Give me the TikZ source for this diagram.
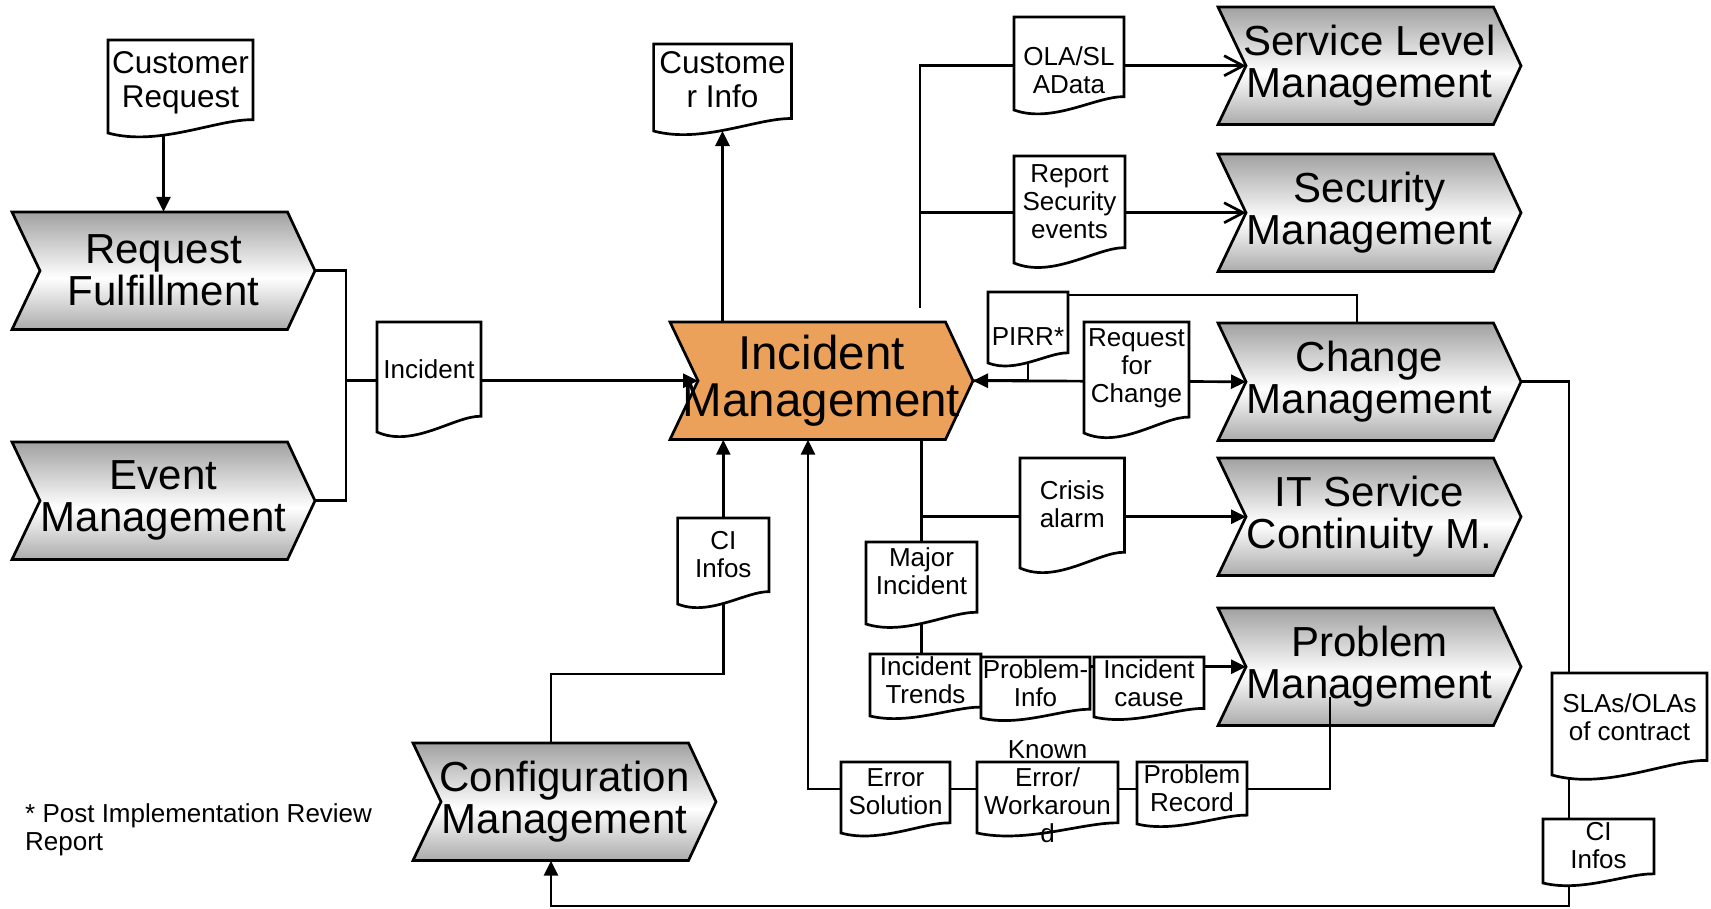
\documentclass[tikz,border=0pt]{standalone}
\usepackage{fontspec}
\setmainfont{Liberation Sans}
\usetikzlibrary{arrows.meta,calc}

\definecolor{chevtop}{gray}{0.63}
\definecolor{chevbot}{gray}{0.67}
\definecolor{imorange}{RGB}{236,161,90}
\pgfdeclareverticalshading{chevshade}{100bp}{color(0bp)=(chevbot); color(25bp)=(chevbot); color(47bp)=(white); color(75bp)=(chevtop); color(100bp)=(chevtop)}

\pgfdeclarelayer{lines}
\pgfdeclarelayer{shapes}
\pgfsetlayers{lines,shapes,main}

\tikzset{
  wire/.style={line width=2.7pt},
  arr/.style={wire, -{Triangle[length=15pt,width=14pt]}},
  oarr/.style={wire, -{Straight Barb[length=19pt,width=20pt]}},
  docline/.style={draw, fill=white, line width=2.7pt},
  chevline/.style={draw, line width=2.7pt, line join=miter},
  grayfill/.style={shade, shading=chevshade},
  orangefill/.style={fill=imorange},
  doctext/.style={font=\fontsize{26}{28}\selectfont, align=center, inner sep=0pt,
    execute at begin node=\strut, execute at end node=\strut},
  bigdoctext/.style={doctext, font=\fontsize{31.5}{34}\selectfont},
  chevtext/.style={font=\fontsize{42}{42}\selectfont, align=center, inner sep=0pt,
    minimum width=303pt, minimum height=117.5pt},
  imtext/.style={chevtext, font=\fontsize{47.5}{47}\selectfont},
}

% process chevron: fill style, name, left x, top y, text style, text
\newcommand\chev[6]{%
  \begin{pgfonlayer}{shapes}
    \path[#1, chevline] (#3,#4) -- ({#3+275.5},#4) -- ({#3+303},{#4+58.75})
      -- ({#3+275.5},{#4+117.5}) -- (#3,{#4+117.5}) -- ({#3+28},{#4+58.75}) -- cycle;
  \end{pgfonlayer}
  \node[#5] (#2) at ({#3+151.5},{#4+58.75}) {#6};
  \coordinate (#2-in) at ({#3+28},{#4+58.75});
  \coordinate (#2-tip) at ({#3+303},{#4+58.75});
}

% document symbol: [text style], name, left x, top y, right x, bottom-left y, text centre y, text
\newcommand\docu[8][doctext]{%
  \begin{pgfonlayer}{shapes}
    \path[docline] (#3,#4) -- (#5,#4) -- (#5,{#6-0.143*(#6-#4)})
      .. controls ({#3+0.75*(#5-#3)},{#6-0.15*(#6-#4)}) and ({#3+0.35*(#5-#3)},{#6+0.15*(#6-#4)}) .. (#3,#6) -- cycle;
  \end{pgfonlayer}
  \node[#1] (#2) at ({(#3+#5)/2},#7) {#8};
  \coordinate (#2-b) at ({(#3+#5)/2},#6);
}

\begin{document}
\begin{tikzpicture}[x=1pt, y=-1pt]
\useasboundingbox (0,0) rectangle (1711,908);

% processes
\chev{grayfill}{rf}{12}{212}{chevtext}{Request\\Fulfillment}
\chev{grayfill}{em}{12}{442}{chevtext}{Event\\Management}
\chev{orangefill}{im}{670}{322}{imtext}{Incident\\Management}
\chev{grayfill}{slm}{1218}{7}{chevtext}{Service Level\\Management}
\chev{grayfill}{sec}{1218}{154}{chevtext}{Security\\Management}
\chev{grayfill}{chm}{1218}{323}{chevtext}{Change\\Management}
\chev{grayfill}{itscm}{1218}{458}{chevtext}{IT Service\\Continuity M.}
\chev{grayfill}{pm}{1218}{608}{chevtext}{Problem\\Management}
\chev{grayfill}{cfg}{413}{743}{chevtext}{Configuration\\Management}

% documents
\docu[bigdoctext]{crq}{108}{40}{253}{133}{84.4}{Customer\\Request}
\docu[bigdoctext]{cinfo}{653.6}{44}{791.4}{131}{84.4}{Custome\\r Info}
\docu{inc}{377}{322}{481}{432}{372.4}{Incident}
\docu{olasla}{1014}{17}{1124}{110}{74.4}{OLA/SL\\AData}
\docu{secrep}{1014}{156}{1125}{263}{206}{Report\\Security\\events}
\docu{pirr}{988}{292}{1068}{363}{339.4}{PIRR*}
\docu{rfc}{1084}{322}{1189}{433}{369.6}{Request\\for\\Change}
\docu{crisis}{1020}{458}{1124.5}{568}{508.6}{Crisis\\alarm}
\docu{major}{866}{542}{977}{624}{575.4}{Major\\Incident}
\docu{trends}{870}{654}{981}{716}{684.5}{Incident\\Trends}
\docu{pinfo}{981}{657}{1090}{718}{687}{Problem-\\Info}
\docu{cause}{1094}{657}{1204}{717}{687.4}{Incident\\cause}
\docu{errsol}{841}{762}{950}{833}{796}{Error\\Solution}
\docu{known}{977}{762}{1118}{833}{795.4}{Known\\Error/\\Workaroun\\d}
\docu{precord}{1137}{762}{1247}{824}{792.6}{Problem\\Record}
\docu{slas}{1552}{673}{1707}{775}{721.3}{SLAs/OLAs\\of contract}
\docu{cir}{1543}{819}{1654}{883}{849.6}{CI\\Infos}
\docu{cim}{677.6}{518}{769}{604}{558.7}{CI\\Infos}

% bends and free ends of connectors
\coordinate (jl) at (346,380.75);
\coordinate (imup) at (920,308);
\coordinate (pk) at (1357,295);
\coordinate (pmx) at (1330,697);
\coordinate (bx) at (808,789);
\coordinate (cb) at (551,674);
\coordinate (br) at (1569,906);
\coordinate (bl) at (551,906);

% connectors, drawn beneath the documents
\begin{pgfonlayer}{lines}
  \draw[arr] (rf.north |- crq) -- (rf.north);
  \draw[wire] (rf-tip) -| (jl) |- (em-tip);
  \draw[arr] (jl) -- (im-in);
  \draw[arr] (im.north -| cinfo) -- (cinfo-b);
  \draw[oarr] (imup) |- (slm-in);
  \draw[oarr] (imup |- sec-in) -- (sec-in);
  \draw[wire] (chm.north -| pk) -- (pk) -- (pk -| pirr);
  \draw[arr] (pirr) |- (im-tip);
  \draw[arr] (im-tip) -- (chm-in);
  \draw[wire] (im.south -| major) -- (major |- trends);
  \draw[arr] (major |- itscm-in) -- (itscm-in);
  \draw[arr] (trends |- pm-in) -- (pm-in);
  \draw[arr] (pmx) |- (bx) -- (im.south -| bx);
  \draw[arr] (cfg.north -| cb) -- (cb) -| (im.south -| cim);
  \draw[arr] (chm-tip) -| (br) -- (bl) -- (cfg.south -| bl);
\end{pgfonlayer}
% the problem-record line reaches into the problem process
\draw[wire] (pmx) -- (pmx |- pm.south);

% footnote
\node[doctext, align=left, anchor=north west] (note) at (25,803) {* Post Implementation Review\\Report};
\end{tikzpicture}
\end{document}
